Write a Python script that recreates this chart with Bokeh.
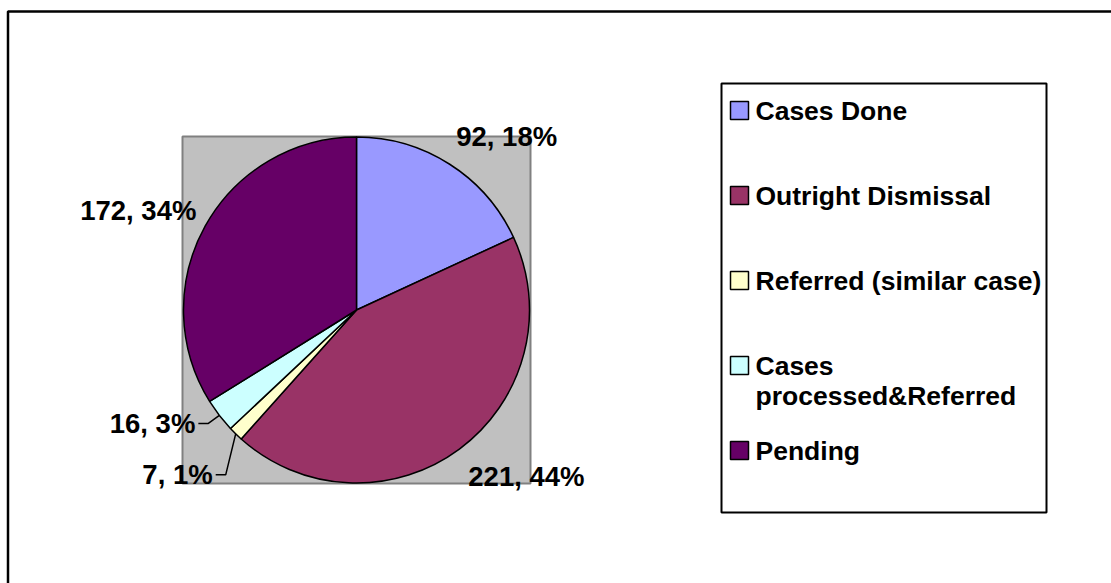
import math
import textwrap
from bokeh.plotting import figure
from bokeh.models import Range1d, ColumnDataSource
from bokeh.embed import file_html
from bokeh.resources import INLINE
from bokeh.core.properties import value

# ---------------- data ----------------
categories = ["Cases Done", "Outright Dismissal", "Referred (similar case)",
              "Cases processed&Referred", "Pending"]
counts = [92, 221, 7, 16, 172]
colors = ["#9999FF", "#993366", "#FFFFCC", "#CCFFFF", "#660066"]

# ---------------- layout (pixel space, y measured from top) ----------------
W, H = 1111, 583


def Y(img_y):
    return H - img_y


CX, CY, R = 356, 309.5, 173          # pie centre / radius (image px)
# label offsets from the slice's mid-angle point on the rim (image px); None -> leader line
label_offsets = [(57, -28), (67, 27), None, None, (-67, -15)]
# leader elbow offsets from rim point (image px)
leader_elbows = [None, None, (-10, 41), (-11, 8), None]
LEG_LEFT, LEG_RIGHT, LEG_TOP, LEG_BOTTOM = 721, 1046, 83, 512
LEG_Y0, LEG_STEP, LEG_LINE = 110, 85, 30

FONT = value("Liberation Sans")

p = figure(width=W, height=H, x_range=Range1d(0, W), y_range=Range1d(0, H),
           output_backend="svg", toolbar_location=None, min_border=0,
           x_axis_type=None, y_axis_type=None, outline_line_color=None,
           background_fill_color="white", border_fill_color="white")
p.grid.visible = False

# outer chart border (right/bottom edges lie beyond the view)
p.line(x=[7.5, 7.5, 1400], y=[-100, Y(11), Y(11)], line_color="black", line_width=2.5)

# plot area
p.quad(left=182, right=530, top=Y(136), bottom=Y(483), fill_color="#C0C0C0",
       line_color="#808080", line_width=2)

# wedges
total = sum(counts)
cum = 0
starts, ends, mids = [], [], []
for c in counts:
    a0 = math.pi / 2 - 2 * math.pi * cum / total
    cum += c
    a1 = math.pi / 2 - 2 * math.pi * cum / total
    starts.append(a1)
    ends.append(a0)
    mids.append((a0 + a1) / 2)

src = ColumnDataSource(dict(start=starts, end=ends, color=colors))
p.wedge(x=CX, y=Y(CY), radius=R, start_angle="start", end_angle="end",
        direction="anticlock", fill_color="color", line_color="black",
        line_width=1.5, source=src)

# labels
lx, ly, lt, la = [], [], [], []
for i, c in enumerate(counts):
    pct = round(100 * c / total)
    txt = f"{c}, {pct}%"
    rx = CX + R * math.cos(mids[i])
    ry = CY - R * math.sin(mids[i])
    if label_offsets[i] is not None:
        dx, dy = label_offsets[i]
        lx.append(rx + dx); ly.append(Y(ry + dy)); lt.append(txt); la.append("center")
    else:
        ex, ey = leader_elbows[i]
        elx, ely = rx + ex, ry + ey
        endx = elx - 10
        p.line(x=[rx, elx, endx], y=[Y(ry), Y(ely), Y(ely)], line_color="black", line_width=1.5)
        lx.append(endx - 3); ly.append(Y(ely)); lt.append(txt); la.append("right")

p.text(x=lx, y=ly, text=lt, text_align=la, text_baseline="middle",
       text_font=FONT, text_font_style="bold", text_font_size="27.5px", text_color="black")

# legend
p.quad(left=LEG_LEFT, right=LEG_RIGHT, top=Y(LEG_TOP), bottom=Y(LEG_BOTTOM),
       fill_color="white", line_color="black", line_width=2)
sq_y, tx, ty, tt = [], [], [], []
for i, name in enumerate(categories):
    yc = LEG_Y0 + LEG_STEP * i
    sq_y.append(Y(yc))
    for j, line in enumerate(textwrap.wrap(name, 23)):
        tx.append(755); ty.append(Y(yc + j * LEG_LINE)); tt.append(line)
p.rect(x=[739] * len(categories), y=sq_y, width=18, height=18,
       width_units="screen", height_units="screen", fill_color=colors,
       line_color="black", line_width=1.5)
p.text(x=tx, y=ty, text=tt, text_align="left", text_baseline="middle",
       text_font=FONT, text_font_style="bold", text_font_size="26.5px", text_color="black")

open("out.html", "w").write(file_html(p, INLINE))
